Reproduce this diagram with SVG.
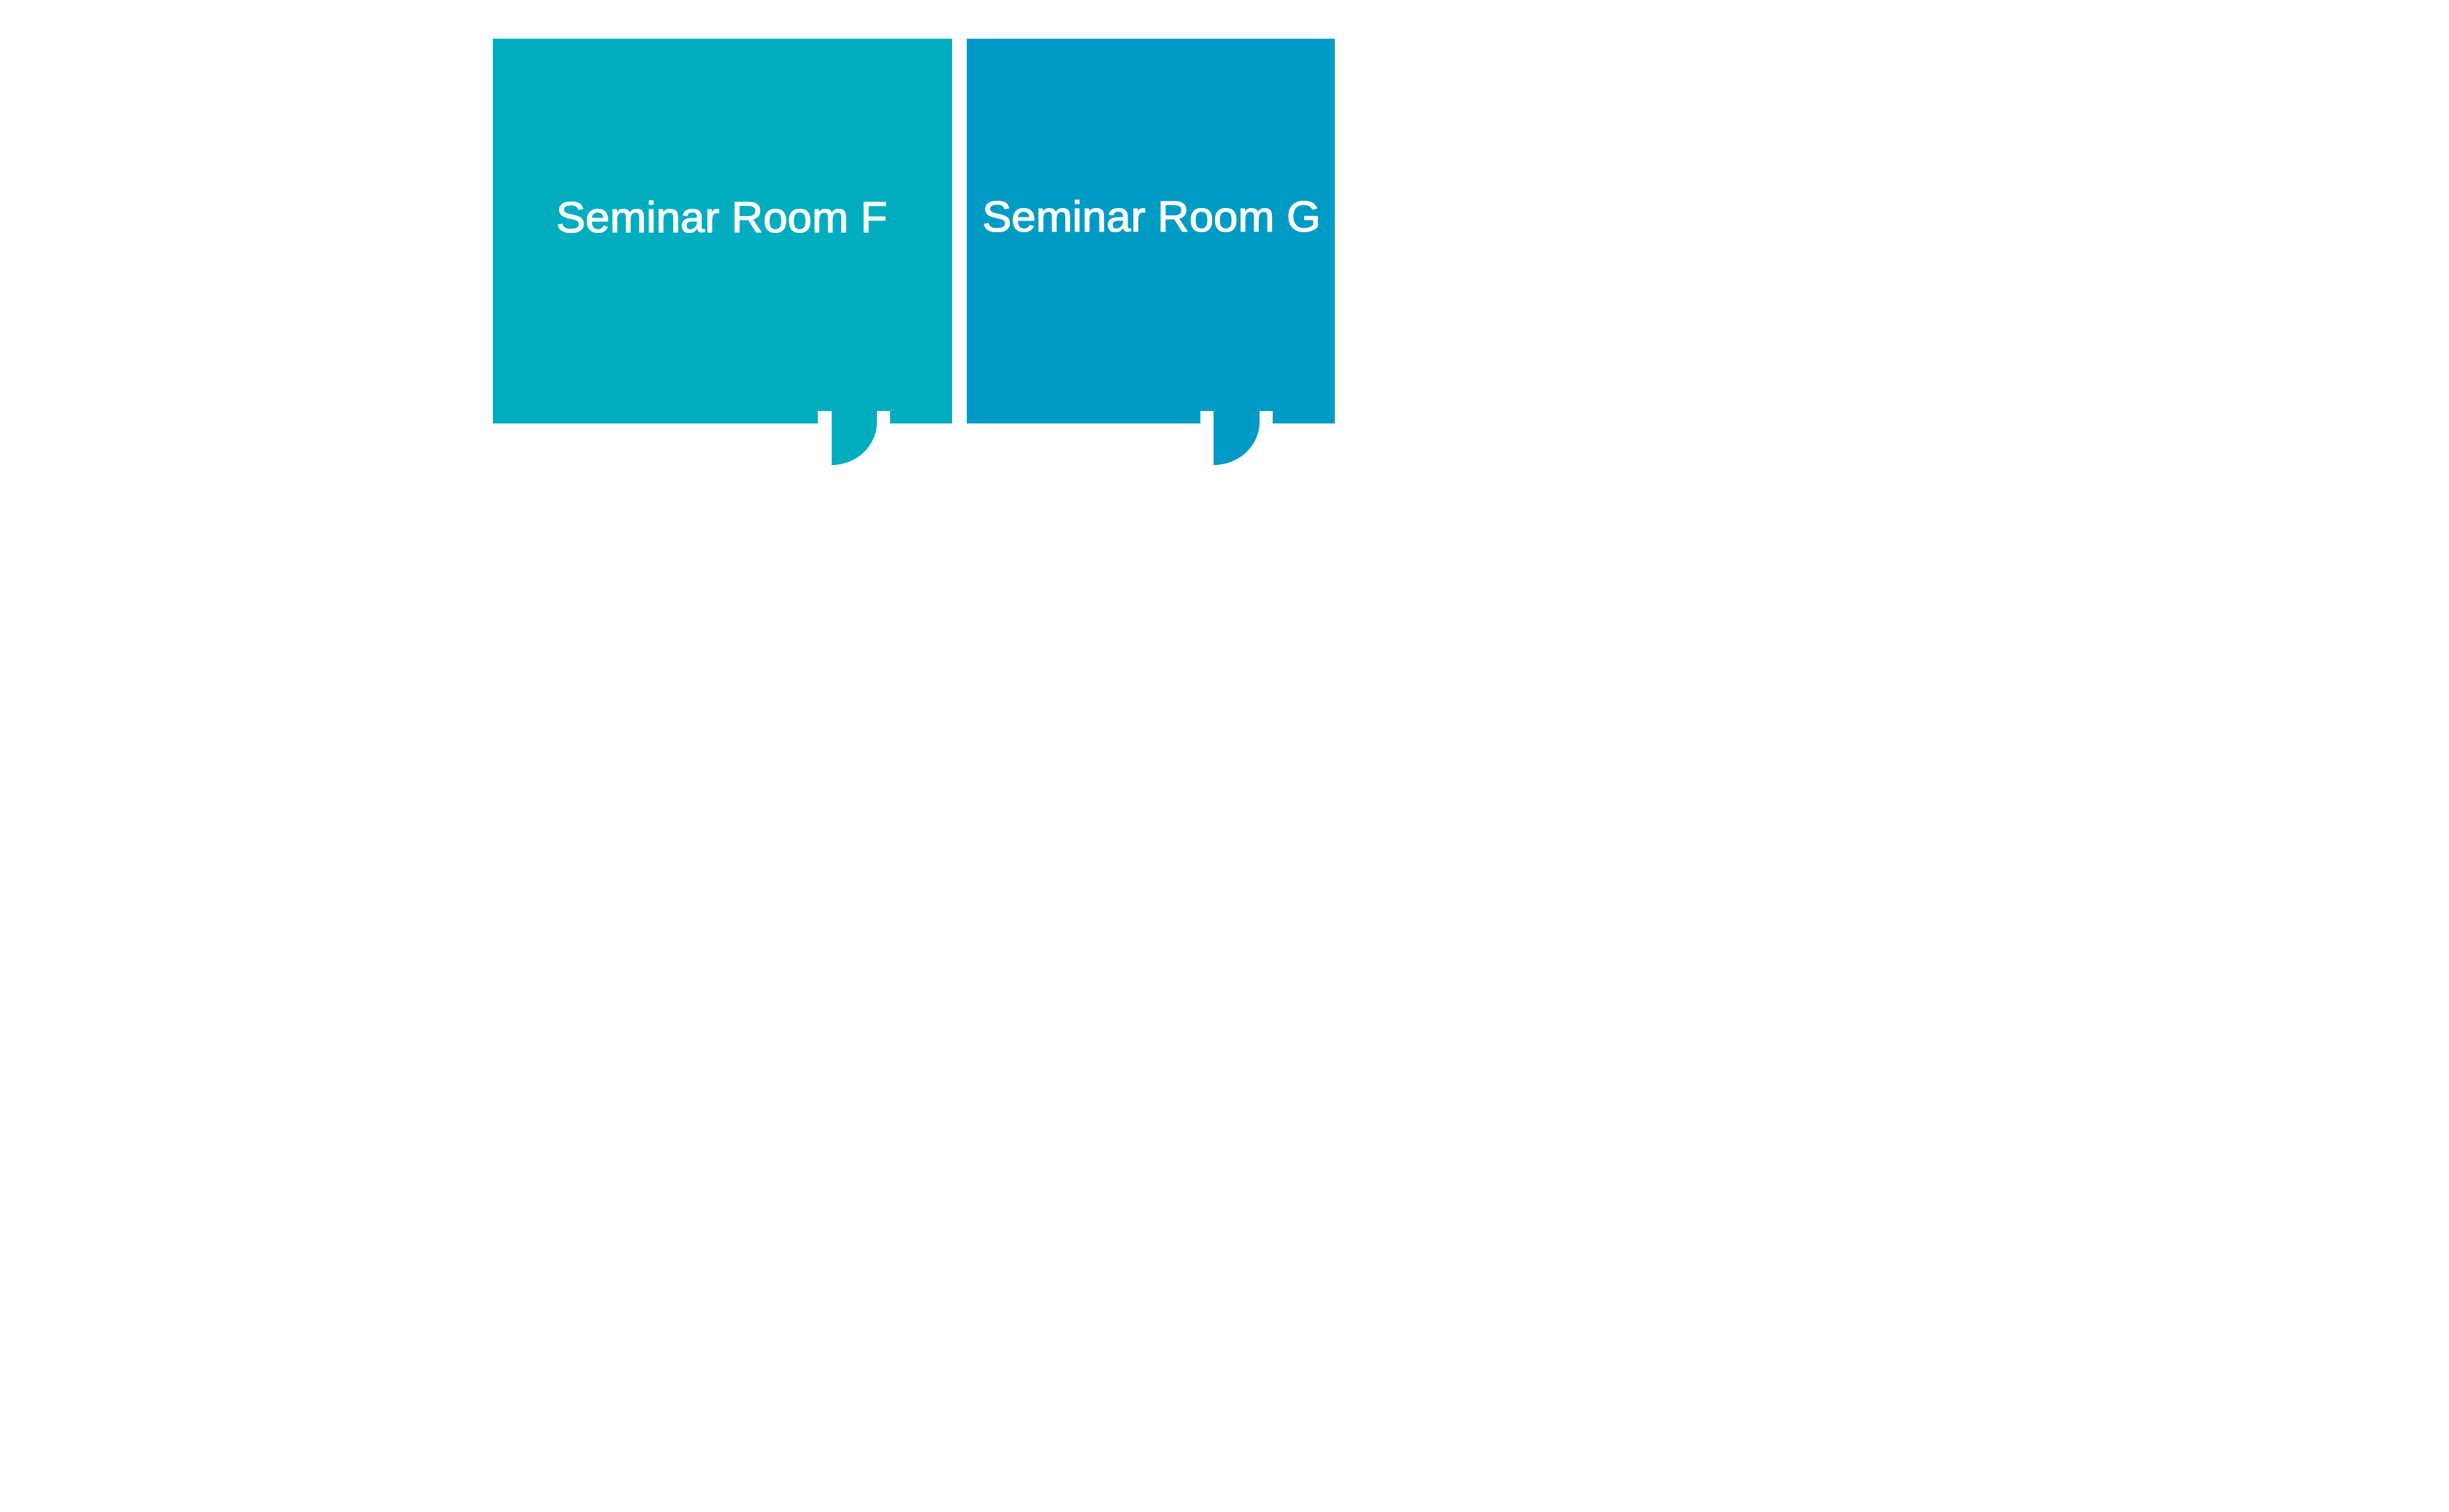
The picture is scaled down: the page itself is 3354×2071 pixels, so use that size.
<svg xmlns="http://www.w3.org/2000/svg" width="3354" height="2071" viewBox="0 0 3354 2071">
<style>
.lbl{font-family:"Liberation Sans",Arial,sans-serif;font-size:60px;fill:#ffffff;stroke:#ffffff;stroke-width:1.2px;text-anchor:middle}
.f{fill:#00ADBF}
.g{fill:#009BC4}
</style>
<rect width="3354" height="2071" fill="#ffffff"/>
<g id="room-f">
<path class="f" d="M675,53 H1304 V580 H1219 V563 H1120 V580 H675 Z"/>
<path class="f" d="M1139,563 H1201 V578 A62,59 0 0 1 1139,637 Z"/>
<text class="lbl" x="988.5" y="318">Seminar Room F</text>
</g>
<g id="room-g">
<path class="g" d="M1324,53 H1828 V580 H1743 V563 H1644 V580 H1324 Z"/>
<path class="g" d="M1662,563 H1725 V578 A63,59 0 0 1 1662,637 Z"/>
<text class="lbl" x="1577" y="317">Seminar Room G</text>
</g>
<g id="connectors"/>
</svg>
